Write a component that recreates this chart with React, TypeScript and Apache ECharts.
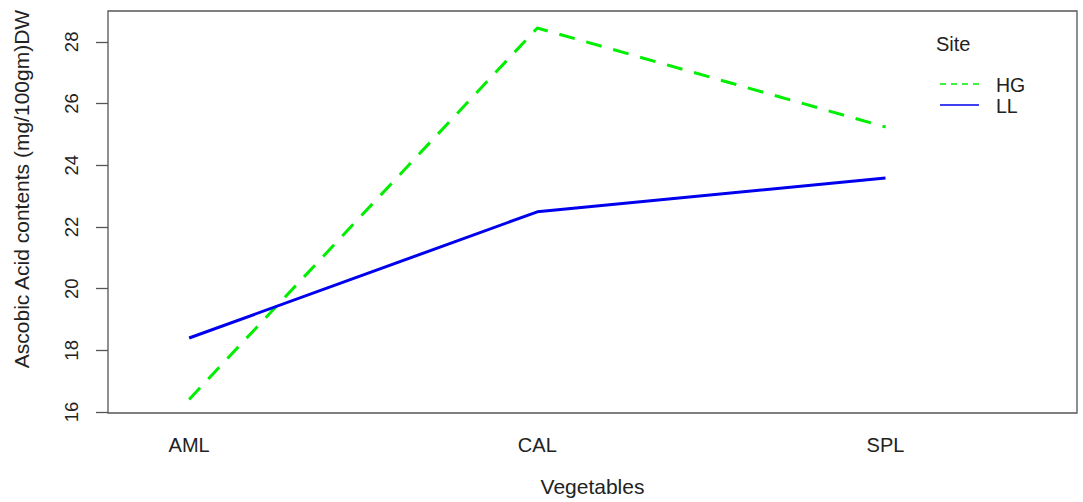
import React, { useEffect, useRef } from "react";
import * as echarts from "echarts";

// Vegetable categories along the x axis (plotted at positions 1, 2, 3)
const vegetables = ["AML", "CAL", "SPL"];
const sites = ["HG", "LL"];
// Mean ascorbic acid content per vegetable, by site
const hgValues = [16.41, 28.45, 25.24];
const llValues = [18.4, 22.49, 23.59];
const yTicks = [16, 18, 20, 22, 24, 26, 28];

const FONT = "Liberation Sans, Arial, sans-serif";

export default function App() {
  const ref = useRef<HTMLDivElement>(null);

  useEffect(() => {
    document.body.style.margin = "0";
    const chart = echarts.init(ref.current!, null, { renderer: "svg" });
    const pos = vegetables.map((_, i) => i + 1);
    chart.setOption({
      animation: false,
      backgroundColor: "#fff",
      grid: {
        left: 108,
        right: 6,
        top: 11,
        bottom: 89,
        outerBoundsMode: "none",
        containLabel: false,
        show: true,
        borderColor: "#555",
        borderWidth: 1.3,
        backgroundColor: "transparent",
      },
      xAxis: {
        type: "value",
        min: 0.767,
        max: 3.55,
        name: "Vegetables",
        nameLocation: "middle",
        nameGap: 63,
        nameTextStyle: { fontFamily: FONT, fontSize: 21, color: "#222" },
        axisLine: { show: false },
        axisTick: { show: false },
        splitLine: { show: false },
        axisLabel: {
          customValues: pos,
          formatter: (v: number) => vegetables[Math.round(v) - 1] ?? "",
          fontFamily: FONT,
          fontSize: 20,
          color: "#222",
          margin: 22,
        },
      },
      yAxis: {
        type: "value",
        min: 15.97,
        max: 29.0,
        name: "Ascobic Acid contents (mg/100gm)DW",
        nameLocation: "middle",
        nameGap: 76,
        nameTextStyle: { fontFamily: FONT, fontSize: 21, color: "#222", padding: [0, 0, 0, 46] },
        axisLine: { show: false },
        splitLine: { show: false },
        axisTick: { show: true, customValues: yTicks, length: 12, lineStyle: { color: "#555", width: 1.3 } },
        axisLabel: {
          customValues: yTicks,
          rotate: 90,
          fontFamily: FONT,
          fontSize: 18.5,
          color: "#222",
          margin: 27,
        },
      },
      series: [
        {
          name: sites[0],
          type: "line",
          data: hgValues.map((v, i) => [pos[i], v]),
          symbol: "none",
          lineStyle: { color: "#00ee00", width: 3, type: [16, 12] },
        },
        {
          name: sites[1],
          type: "line",
          data: llValues.map((v, i) => [pos[i], v]),
          symbol: "none",
          lineStyle: { color: "#0000ee", width: 3 },
        },
      ],
      graphic: [
        { type: "text", left: 936, top: 34, style: { text: "Site", font: `20px ${FONT}`, fill: "#222" } },
        { type: "line", shape: { x1: 940, y1: 84, x2: 979, y2: 84 }, style: { stroke: "#00ee00", lineWidth: 1.3, lineDash: [6, 5] } },
        { type: "text", left: 996, top: 75, style: { text: sites[0], font: `19.5px ${FONT}`, fill: "#222" } },
        { type: "line", shape: { x1: 940, y1: 105, x2: 979, y2: 105 }, style: { stroke: "#0000ee", lineWidth: 1.6 } },
        { type: "text", left: 996, top: 96, style: { text: sites[1], font: `19.5px ${FONT}`, fill: "#222" } },
      ],
    });
    return () => chart.dispose();
  }, []);

  return <div ref={ref} style={{ width: 1083, height: 502 }} />;
}
